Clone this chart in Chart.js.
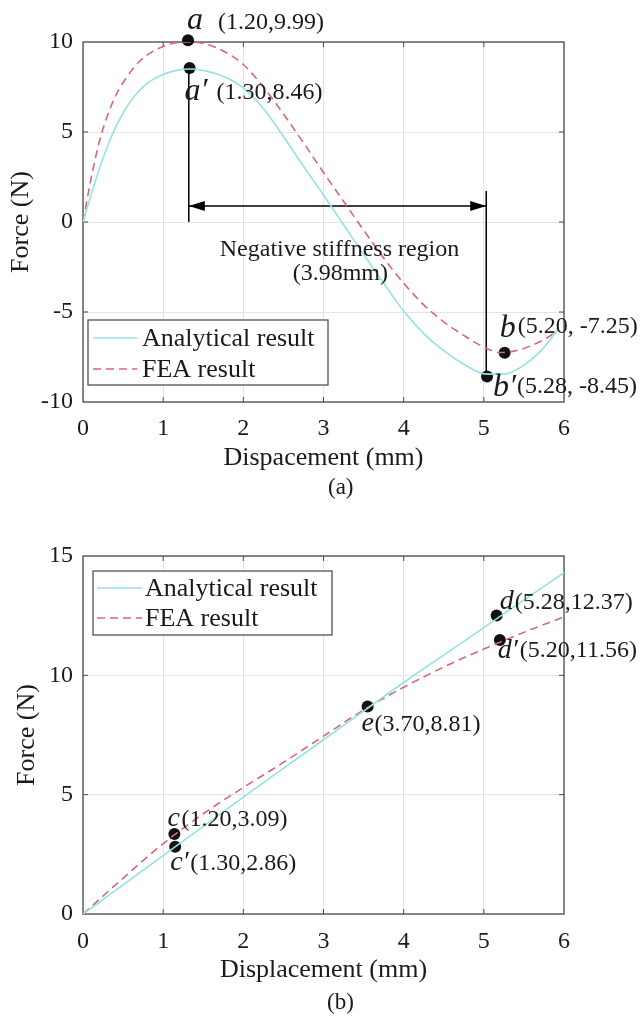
<!DOCTYPE html>
<html lang="en">
<head>
<meta charset="UTF-8">
<title>Force - displacement</title>
<script src="https://cdn.jsdelivr.net/npm/chart.js@4"></script>
<style>
  body { margin: 0; background: #fff; width: 643px; height: 1018px; position: relative; overflow: hidden;
         font-family: 'Liberation Serif', 'Times New Roman', serif; }
  .panel { position: absolute; left: 0; width: 643px; height: 509px; }
  .caption { position: absolute; font-size: 23px; line-height: 23px; color: #1a1a1a; }
</style>
</head>
<body>
<div class="panel" style="top:0"><canvas id="chartA" width="643" height="509"></canvas></div>
<div class="panel" style="top:509px"><canvas id="chartB" width="643" height="509"></canvas></div>
<div class="caption" style="left:328px; top:475px">(a)</div>
<div class="caption" style="left:327px; top:990px">(b)</div>
<script>
// ---------- panel (a) data ----------
const xTicksA = [0, 1, 2, 3, 4, 5, 6];
const yTicksA = [-10, -5, 0, 5, 10];
const dispAnalyticalA = [0, 0.1, 0.2, 0.3, 0.4, 0.5, 0.6, 0.8, 1.0, 1.2, 1.33, 1.5, 1.75, 2.0, 2.25, 2.5, 2.75, 3.0, 3.25, 3.5, 3.75, 4.0, 4.25, 4.5, 4.75, 5.03, 5.25, 5.5, 5.7, 5.92];
const forceAnalyticalA = [0, 1.5, 2.9, 4.15, 5.2, 6.05, 6.75, 7.7, 8.2, 8.45, 8.5, 8.42, 8.1, 7.45, 6.3, 4.75, 3.1, 1.5, -0.15, -1.8, -3.4, -4.95, -6.2, -7.15, -7.9, -8.45, -8.45, -7.95, -7.2, -6.0];
const dispFeaA = [0, 0.1, 0.2, 0.3, 0.4, 0.5, 0.7, 0.9, 1.1, 1.28, 1.5, 1.75, 2.0, 2.25, 2.5, 2.75, 3.0, 3.25, 3.5, 3.75, 4.0, 4.25, 4.5, 4.75, 5.0, 5.2, 5.4, 5.6, 5.8, 5.92];
const forceFeaA = [0, 2.4, 4.4, 5.85, 6.95, 7.75, 8.9, 9.55, 9.9, 10.0, 9.92, 9.5, 8.75, 7.5, 6.0, 4.4, 2.75, 1.15, -0.45, -2.0, -3.4, -4.6, -5.55, -6.3, -6.95, -7.25, -7.15, -6.85, -6.4, -6.0];
const markXA = [1.31, 1.33, 5.26, 5.04];
const markYA = [10.1, 8.55, -7.26, -8.58];
const markNameA = ['a', 'a′', 'b', 'b′'];
const markTextA = ['(1.20,9.99)', '(1.30,8.46)', '(5.20, -7.25)', '(5.28, -8.45)'];
const guideXA = [1.32, 5.03];
const guideTopA = [8.55, 1.72];
const guideBottomA = [0, -8.58];
const arrowYA = 0.89;

// ---------- panel (b) data ----------
const xTicksB = [0, 1, 2, 3, 4, 5, 6];
const yTicksB = [0, 5, 10, 15];
const dispB = [0, 0.5, 1, 1.5, 2, 2.5, 3, 3.5, 4, 4.5, 5, 5.5, 6];
const forceAnalyticalB = [0, 1.22, 2.45, 3.67, 4.9, 6.1, 7.3, 8.5, 9.7, 10.85, 12.0, 13.15, 14.3];
const forceFeaB = [0, 1.5, 2.95, 4.2, 5.3, 6.35, 7.45, 8.55, 9.5, 10.35, 11.1, 11.8, 12.45];
const markXB = [1.14, 1.15, 3.55, 5.16, 5.20];
const markYB = [3.35, 2.82, 8.69, 12.51, 11.48];
const markNameB = ['c', 'c′', 'e', 'd', 'd′'];
const markTextB = ['(1.20,3.09)', '(1.30,2.86)', '(3.70,8.81)', '(5.28,12.37)', '(5.20,11.56)'];

const FONT = "'Liberation Serif', 'Times New Roman', serif";
const CYAN = '#92e2e8';
const RED = '#d9677b';
const INK = '#1a1a1a';

const pts = (xs, ys) => xs.map((x, i) => ({ x: x, y: ys[i] }));

function curveSets(xA, yA, xF, yF) {
  return [
    { label: 'Analytical result', data: pts(xA, yA), showLine: true, borderColor: CYAN, borderWidth: 1.6,
      pointRadius: 0, cubicInterpolationMode: 'monotone' },
    { label: 'FEA result', data: pts(xF, yF), showLine: true, borderColor: RED, borderWidth: 1.6,
      borderDash: [8, 5], pointRadius: 0, cubicInterpolationMode: 'monotone' }
  ];
}

function markerSet(xs, ys, radius) {
  return { label: 'points', data: pts(xs, ys), showLine: false, pointRadius: radius,
           pointBackgroundColor: '#111', pointBorderWidth: 0, clip: false };
}

function axes(xTicks, yTicks, xTitle, yTitlePad, xTickPad) {
  return {
    x: {
      type: 'linear', min: xTicks[0], max: xTicks[xTicks.length - 1],
      afterBuildTicks: s => { s.ticks = xTicks.map(v => ({ value: v })); },
      afterFit: s => { s.height = 80; },
      grid: { color: '#e4e4e4', drawTicks: false },
      border: { display: false },
      ticks: { padding: xTickPad, color: INK, font: { family: FONT, size: 24 }, maxRotation: 0, autoSkip: false },
      title: { display: true, text: xTitle, color: INK, font: { family: FONT, size: 26 }, padding: { top: 0, bottom: 8 } }
    },
    y: {
      type: 'linear', min: yTicks[0], max: yTicks[yTicks.length - 1],
      afterBuildTicks: s => { s.ticks = yTicks.map(v => ({ value: v })); },
      afterFit: s => { s.width = 83; },
      grid: { color: '#e4e4e4', drawTicks: false },
      border: { display: false },
      ticks: { padding: 10, color: INK, font: { family: FONT, size: 24 }, autoSkip: false },
      title: { display: true, text: 'Force (N)', color: INK, font: { family: FONT, size: 26 }, padding: { top: yTitlePad, bottom: 0 } }
    }
  };
}

// frame, inward ticks, arrow heads, point labels and legend box
function figureExtras(cfg) {
  return {
    id: 'figureExtras',
    beforeDatasetsDraw(chart) {
      const { ctx, chartArea: a, scales: { x, y } } = chart;
      ctx.save();
      ctx.strokeStyle = '#4a4a4a';
      ctx.lineWidth = 1.3;
      ctx.strokeRect(a.left, a.top, a.right - a.left, a.bottom - a.top);
      ctx.lineWidth = 1;
      ctx.beginPath();
      x.ticks.forEach(t => {
        const px = x.getPixelForValue(t.value);
        if (px <= a.left + 1 || px >= a.right - 1) return;
        ctx.moveTo(px, a.bottom); ctx.lineTo(px, a.bottom - 5);
        ctx.moveTo(px, a.top); ctx.lineTo(px, a.top + 5);
      });
      y.ticks.forEach(t => {
        const py = y.getPixelForValue(t.value);
        if (py <= a.top + 1 || py >= a.bottom - 1) return;
        ctx.moveTo(a.left, py); ctx.lineTo(a.left + 5, py);
        ctx.moveTo(a.right, py); ctx.lineTo(a.right - 5, py);
      });
      ctx.stroke();
      ctx.restore();
    },
    afterDatasetsDraw(chart) {
      const { ctx, chartArea: a, scales: { x, y } } = chart;
      ctx.save();
      ctx.fillStyle = INK;

      // double arrow heads
      if (cfg.arrow) {
        const py = y.getPixelForValue(cfg.arrow.y);
        const x1 = x.getPixelForValue(cfg.arrow.from);
        const x2 = x.getPixelForValue(cfg.arrow.to);
        const L = 16, W = 5;
        ctx.fillStyle = '#000';
        ctx.beginPath();
        ctx.moveTo(x1, py); ctx.lineTo(x1 + L, py - W); ctx.lineTo(x1 + L, py + W); ctx.closePath();
        ctx.moveTo(x2, py); ctx.lineTo(x2 - L, py - W); ctx.lineTo(x2 - L, py + W); ctx.closePath();
        ctx.fill();
        ctx.fillStyle = INK;
      }

      // point labels
      ctx.textBaseline = 'alphabetic';
      ctx.textAlign = 'left';
      cfg.marks.x.forEach((mx, i) => {
        const px = x.getPixelForValue(mx);
        const py = y.getPixelForValue(cfg.marks.y[i]);
        const off = cfg.offsets[i];
        ctx.font = 'italic ' + cfg.nameSize + 'px ' + FONT;
        ctx.fillText(cfg.marks.names[i], px + off[0], py + off[1]);
        ctx.font = '24px ' + FONT;
        ctx.fillText(cfg.marks.texts[i], px + off[2], py + off[3]);
      });

      // free notes
      (cfg.notes || []).forEach(n => {
        ctx.font = '24px ' + FONT;
        ctx.textAlign = 'center';
        ctx.fillText(n.text, x.getPixelForValue(n.x), y.getPixelForValue(n.y));
      });

      // legend box
      const lg = cfg.legend;
      const bx = a.left + lg.dx;
      const by = lg.fromBottom ? a.bottom - lg.dy - lg.h : a.top + lg.dy;
      ctx.fillStyle = '#fff';
      ctx.fillRect(bx, by, lg.w, lg.h);
      ctx.strokeStyle = '#444';
      ctx.lineWidth = 1.2;
      ctx.strokeRect(bx, by, lg.w, lg.h);
      ctx.font = '26px ' + FONT;
      ctx.textAlign = 'left';
      ctx.textBaseline = 'middle';
      [0, 1].forEach(i => {
        const ds = chart.data.datasets[i];
        const ry = by + lg.rows[i];
        ctx.strokeStyle = ds.borderColor;
        ctx.lineWidth = 1.6;
        ctx.setLineDash(ds.borderDash || []);
        ctx.beginPath();
        ctx.moveTo(bx + lg.line[0], ry); ctx.lineTo(bx + lg.line[1], ry);
        ctx.stroke();
        ctx.setLineDash([]);
        ctx.fillStyle = INK;
        ctx.fillText(ds.label, bx + lg.textX, ry + 1);
      });
      ctx.restore();
    }
  };
}

const common = {
  responsive: false,
  animation: false,
  events: [],
  plugins: { legend: { display: false }, tooltip: { enabled: false } }
};

// ---------- chart (a) ----------
new Chart(document.getElementById('chartA'), {
  type: 'scatter',
  data: {
    datasets: [
      ...curveSets(dispAnalyticalA, forceAnalyticalA, dispFeaA, forceFeaA),
      { label: 'guide1', data: pts([guideXA[0], guideXA[0]], [guideTopA[0], guideBottomA[0]]), showLine: true,
        borderColor: '#000', borderWidth: 1.5, pointRadius: 0 },
      { label: 'guide2', data: pts([guideXA[1], guideXA[1]], [guideTopA[1], guideBottomA[1]]), showLine: true,
        borderColor: '#000', borderWidth: 1.5, pointRadius: 0 },
      { label: 'span', data: pts(guideXA, [arrowYA, arrowYA]), showLine: true,
        borderColor: '#000', borderWidth: 1.5, pointRadius: 0 },
      markerSet(markXA, markYA, 6)
    ]
  },
  options: Object.assign({}, common, {
    layout: { padding: { left: 0, top: 42, right: 79, bottom: 27 } },
    scales: axes(xTicksA, yTicksA, 'Dispacement (mm)', 6, 12)
  }),
  plugins: [figureExtras({
    marks: { x: markXA, y: markYA, names: markNameA, texts: markTextA },
    offsets: [[-1, -11, 30, -11], [-5, 32, 27, 31], [-5, -16, 13, -20], [6, 20, 30, 17]],
    nameSize: 32,
    arrow: { y: arrowYA, from: guideXA[0], to: guideXA[1] },
    notes: [{ text: 'Negative stiffness region', x: 3.2, y: -1.89 }, { text: '(3.98mm)', x: 3.21, y: -3.22 }],
    legend: { dx: 5, dy: 17, fromBottom: true, w: 240, h: 65, rows: [18, 49], line: [5, 49], textX: 54 }
  })]
});

// ---------- chart (b) ----------
new Chart(document.getElementById('chartB'), {
  type: 'scatter',
  data: {
    datasets: [
      ...curveSets(dispB, forceAnalyticalB, dispB, forceFeaB),
      markerSet(markXB, markYB, 6)
    ]
  },
  options: Object.assign({}, common, {
    layout: { padding: { left: 0, top: 47, right: 79, bottom: 24 } },
    scales: axes(xTicksB, yTicksB, 'Displacement (mm)', 12, 13)
  }),
  plugins: [figureExtras({
    marks: { x: markXB, y: markYB, names: markNameB, texts: markTextB },
    offsets: [[-7, -8, 7, -8], [-5, 23, 15, 23], [-6, 24, 7, 24], [3, -6, 18, -6], [-2, 18, 20, 17]],
    nameSize: 28,
    legend: { dx: 10, dy: 15, fromBottom: false, w: 239, h: 64, rows: [17, 47], line: [4, 49], textX: 52 }
  })]
});
</script>
</body>
</html>
